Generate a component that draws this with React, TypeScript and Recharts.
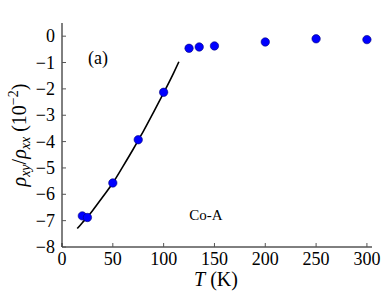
import React from "react";
import {
  ComposedChart,
  Line,
  Scatter,
  XAxis,
  YAxis,
} from "recharts";

// measured points (T in K, rho_xy/rho_xx in 1e-2)
const temps = [20, 25, 50, 75, 100, 125, 135, 150, 200, 250, 300];
const ratio = [-6.82, -6.88, -5.57, -3.93, -2.13, -0.46, -0.41, -0.37, -0.22, -0.1, -0.13];

// fitted curve
const fitT = [15, 20, 25, 30, 40, 50, 60, 70, 75, 80, 90, 100, 110, 115];
const fitR = [-7.3, -7.08, -6.86, -6.62, -6.1, -5.57, -4.94, -4.29, -3.95, -3.61, -2.89, -2.15, -1.38, -0.97];

const xTicks = [0, 50, 100, 150, 200, 250, 300];
const yTicks = [-8, -7, -6, -5, -4, -3, -2, -1, 0];

const points = temps.map((t, i) => ({ x: t, y: ratio[i] }));
const curve = fitT.map((t, i) => ({ x: t, y: fitR[i] }));

const font = "Liberation Serif";
const fmt = (v: number) => (v < 0 ? "\u2212" + Math.abs(v) : String(v));

// tick label drawn by hand so the serif font sticks
const XTick = (p: any) => (
  <text x={p.x} y={p.y} dy={13} textAnchor="middle" fontSize={18} fontFamily={font} fill="#000">
    {fmt(p.payload.value)}
  </text>
);
const YTick = (p: any) => (
  <text x={p.x} y={p.y} dy={6} textAnchor="end" fontSize={18} fontFamily={font} fill="#000">
    {fmt(p.payload.value)}
  </text>
);

export default function App() {
  return (
    <div
      style={{
        position: "absolute",
        left: 0,
        top: 0,
        width: 392,
        height: 294,
        background: "#fff",
        fontFamily: font,
      }}
    >
      <ComposedChart
        width={392}
        height={294}
        margin={{ top: 23, right: 20, left: 12, bottom: 17 }}
      >
        <XAxis
          xAxisId="b"
          type="number"
          dataKey="x"
          domain={[0, 305]}
          ticks={xTicks}
          allowDataOverflow
          tick={<XTick />}
          tickSize={-4}
          tickMargin={9}
          height={30}
          stroke="#000"
          tickLine={{ stroke: "#555" }}
        />
        <XAxis
          xAxisId="t"
          orientation="top"
          type="number"
          dataKey="x"
          domain={[0, 305]}
          ticks={xTicks}
          allowDataOverflow
          tick={false}
          tickSize={-4}
          height={0}
          stroke="#000"
          tickLine={{ stroke: "#555" }}
        />
        <YAxis
          yAxisId="l"
          type="number"
          dataKey="y"
          domain={[-8, 0.5]}
          ticks={yTicks}
          allowDataOverflow
          tick={<YTick />}
          tickSize={-4}
          tickMargin={11}
          width={50}
          stroke="#000"
          tickLine={{ stroke: "#555" }}
        />
        <YAxis
          yAxisId="r"
          orientation="right"
          type="number"
          dataKey="y"
          domain={[-8, 0.5]}
          ticks={yTicks}
          allowDataOverflow
          tick={false}
          tickSize={-4}
          width={0}
          stroke="#000"
          tickLine={{ stroke: "#555" }}
        />
        <Line
          xAxisId="b"
          yAxisId="l"
          data={curve}
          dataKey="y"
          type="monotone"
          stroke="#000"
          strokeWidth={1.6}
          dot={false}
          activeDot={false}
          isAnimationActive={false}
        />
        <Scatter
          xAxisId="b"
          yAxisId="l"
          data={points}
          dataKey="y"
          fill="#0000ff"
          shape={(p: any) => (
            <circle cx={p.cx} cy={p.cy} r={4.2} fill="#0000ff" stroke="#00007a" strokeWidth={0.6} />
          )}
          isAnimationActive={false}
        />
      </ComposedChart>
      <svg
        width={392}
        height={294}
        style={{ position: "absolute", left: 0, top: 0, pointerEvents: "none" }}
      >
        <text x={98} y={64} fontSize={18} fontFamily={font} textAnchor="middle">(a)</text>
        <text x={206} y={220} fontSize={15} fontFamily={font} textAnchor="middle">Co-A</text>
        <text x={216} y={286} fontSize={20} fontFamily={font} textAnchor="middle">
          <tspan fontStyle="italic">T</tspan> (K)
        </text>
        <text
          transform="translate(26,135) rotate(-90)"
          fontSize={20}
          fontFamily={font}
          textAnchor="middle"
        >
          <tspan fontStyle="italic">ρ</tspan>
          <tspan fontStyle="italic" fontSize={14} dy={4}>xy</tspan>
          <tspan dy={-4}>/</tspan>
          <tspan fontStyle="italic">ρ</tspan>
          <tspan fontStyle="italic" fontSize={14} dy={4}>xx</tspan>
          <tspan dy={-4}> (10</tspan>
          <tspan fontSize={14} dy={-8}>−2</tspan>
          <tspan dy={8}>)</tspan>
        </text>
      </svg>
    </div>
  );
}
